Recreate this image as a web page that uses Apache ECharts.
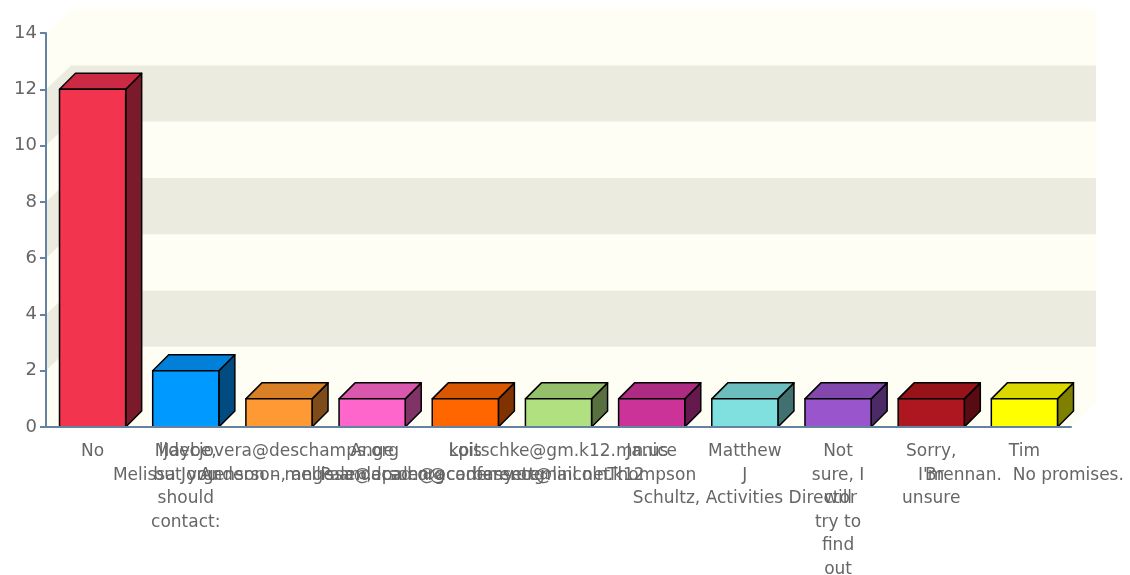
<!DOCTYPE html>
<html>
<head>
<meta charset="utf-8">
<script src="https://cdn.jsdelivr.net/npm/echarts@6/dist/echarts.min.js"></script>
<style>
html,body{margin:0;padding:0;background:#fff;}
#chart{width:1130px;height:575px;}
</style>
</head>
<body>
<div id="chart"></div>
<script>
const categories = [
  "No",
  "Maybe,\nbut you\nshould\ncontact:",
  "ljdecjovera@deschamps.org\nMelissa Jorgenson – mellissa@acad.org",
  "Ange\nAnderson, ange.anderson@academy.org",
  "Lois\nPalen, lpalen@conferencemail.net",
  "kpitschke@gm.k12.mn.us\nbassett@lincoln.k12",
  "Janice\nThompson",
  "Matthew\nJ\nSchultz, Activities Director",
  "Not\nsure, I\nwill\ntry to\nfind\nout",
  "Sorry,\nI'm\nunsure",
  "Tim\nBrennan.  No promises."
];
const values = [12, 2, 1, 1, 1, 1, 1, 1, 1, 1, 1];
const frontColors = ["#f2344f","#0099ff","#ff9933","#ff66cc","#ff6600","#b0e080","#cc3399","#80e0e0","#9955cc","#af1720","#ffff00"];
const topColors   = ["#cc2a44","#0080d8","#d98026","#d957ad","#d95700","#96bf6c","#ad2b82","#6cbebe","#8248ad","#951319","#d9d900"];
const sideColors  = ["#7a1a2a","#004c80","#7f4c19","#803366","#803300","#587040","#66194c","#407070","#4c2a66","#580b10","#808000"];
const yTicks = [0, 2, 4, 6, 8, 10, 12, 14];

const WALL_DX = 25, WALL_DY = 24;   // back wall offset
const BAR_D = 16;                    // bar depth
const LIGHT = "#fefef4", DARK = "#ecebdf";

const bands = [];
for (let i = 0; i < yTicks.length - 1; i++) bands.push([yTicks[i], yTicks[i + 1], i % 2]);

const chart = echarts.init(document.getElementById('chart'), null, {renderer: 'canvas'});
const font = "DejaVu Sans";
const axisColor = "#6483a3";

chart.setOption({
  animation: false,
  backgroundColor: "#fff",
  grid: {left: 46, right: 59, top: 33, bottom: 148, containLabel: false, outerBoundsMode: "none"},
  xAxis: {
    type: "category",
    data: categories,
    z: 10,
    axisLine: {lineStyle: {color: axisColor, width: 2}},
    axisTick: {alignWithLabel: true, length: 6, lineStyle: {color: axisColor, width: 2}},
    axisLabel: {interval: 0, color: "#666", fontFamily: font, fontSize: 17, lineHeight: 23.5, margin: 13, hideOverlap: false},
    splitLine: {show: false}
  },
  yAxis: {
    type: "value",
    min: 0, max: 14, interval: 2,
    z: 10,
    axisLine: {show: true, lineStyle: {color: axisColor, width: 2}},
    axisTick: {show: true, length: 6, lineStyle: {color: axisColor, width: 2}},
    axisLabel: {color: "#666", fontFamily: font, fontSize: 18, margin: 9},
    splitLine: {show: false}
  },
  series: [
    {
      type: "custom",
      z: 1,
      silent: true,
      data: bands,
      renderItem: function (params, api) {
        const cs = params.coordSys;
        const v0 = api.value(0), v1 = api.value(1), c = api.value(2) ? DARK : LIGHT;
        const y0 = api.coord([0, v0])[1], y1 = api.coord([0, v1])[1];
        const x0 = cs.x, x1 = cs.x + cs.width;
        const children = [
          {type: "rect", shape: {x: x0 + WALL_DX, y: y1 - WALL_DY, width: cs.width, height: y0 - y1}, style: {fill: c}},
          {type: "polygon", shape: {points: [[x0, y0], [x0 + WALL_DX, y0 - WALL_DY], [x0 + WALL_DX, y1 - WALL_DY], [x0, y1]]}, style: {fill: c}}
        ];
        if (v0 === 0) {
          children.push({type: "polygon", shape: {points: [[x0, y0], [x0 + WALL_DX, y0 - WALL_DY], [x1 + WALL_DX, y0 - WALL_DY], [x1, y0]]}, style: {fill: LIGHT}});
        }
        return {type: "group", children: children};
      }
    },
    {
      type: "custom",
      z: 2,
      data: values.map((v, i) => [i, v]),
      renderItem: function (params, api) {
        const i = api.value(0), v = api.value(1);
        const p = api.coord([i, v]), p0 = api.coord([i, 0]);
        const bw = api.size([1, 0])[0] * 0.71;
        const xl = p[0] - bw / 2, xr = p[0] + bw / 2, yt = p[1], yb = p0[1];
        const st = {stroke: "#000", lineWidth: 1.5, lineJoin: "round"};
        return {type: "group", children: [
          {type: "polygon", shape: {points: [[xr, yt], [xr + BAR_D, yt - BAR_D], [xr + BAR_D, yb - BAR_D], [xr, yb]]}, style: Object.assign({fill: sideColors[i]}, st)},
          {type: "polygon", shape: {points: [[xl, yt], [xl + BAR_D, yt - BAR_D], [xr + BAR_D, yt - BAR_D], [xr, yt]]}, style: Object.assign({fill: topColors[i]}, st)},
          {type: "rect", shape: {x: xl, y: yt, width: bw, height: yb - yt}, style: Object.assign({fill: frontColors[i]}, st)}
        ]};
      }
    }
  ]
});
</script>
</body>
</html>
